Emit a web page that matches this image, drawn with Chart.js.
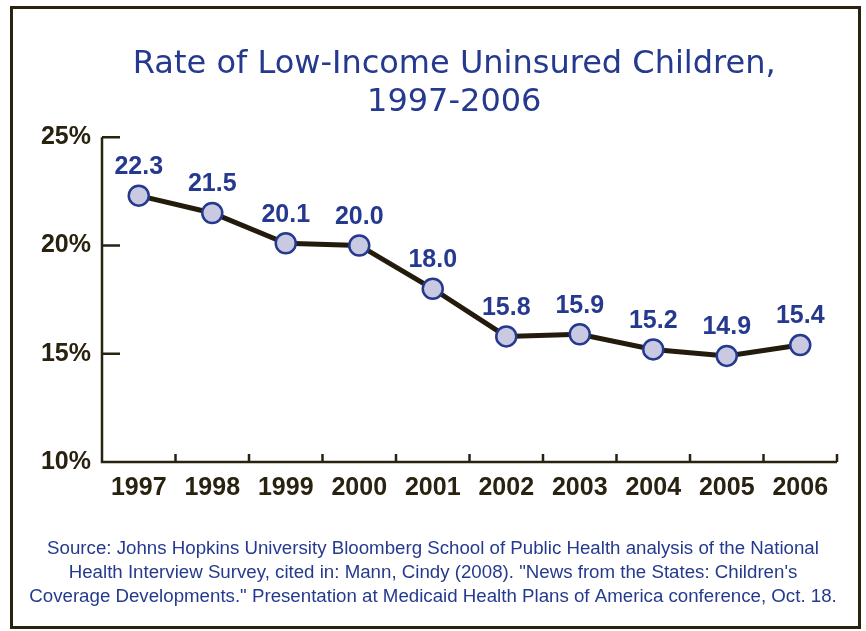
<!DOCTYPE html>
<html>
<head>
<meta charset="utf-8">
<script src="https://cdn.jsdelivr.net/npm/chart.js@4.4.1/dist/chart.umd.min.js"></script>
<style>
  html, body { margin: 0; padding: 0; background: #fff; }
  #wrap { position: relative; width: 866px; height: 631px; }
  #frame { position: absolute; left: 10px; top: 6px; width: 845px; height: 617px; border: 3px solid #2a2210; }
  #graphic { position: absolute; left: 0; top: 0; }
</style>
</head>
<body>
<div id="wrap">
  <div id="frame"></div>
  <canvas id="graphic" width="866" height="631"></canvas>
</div>
<script>
// data
const years = ['1997', '1998', '1999', '2000', '2001', '2002', '2003', '2004', '2005', '2006'];
const rates = [22.3, 21.5, 20.1, 20.0, 18.0, 15.8, 15.9, 15.2, 14.9, 15.4];
const yTicks = [10, 15, 20, 25];
const titleLines = ['Rate of Low-Income Uninsured Children,', '1997-2006'];
const sourceLines = [
  'Source: Johns Hopkins University Bloomberg School of Public Health analysis of the National',
  'Health Interview Survey, cited in: Mann, Cindy (2008). "News from the States: Children\'s',
  'Coverage Developments." Presentation at Medicaid Health Plans of America conference, Oct. 18.'
];

const blue = '#253a8f';
const dark = '#2a2210';

// axis lines with inward tick marks + value labels over the points
const axisAndLabels = {
  id: 'axisAndLabels',
  afterDatasetsDraw(chart) {
    const ctx = chart.ctx;
    const x = chart.scales.x, y = chart.scales.y;
    const area = chart.chartArea;
    ctx.save();
    ctx.strokeStyle = dark;
    ctx.lineWidth = 2.5;
    ctx.beginPath();
    ctx.moveTo(area.left, area.top);
    ctx.lineTo(area.left, area.bottom);
    ctx.lineTo(area.right, area.bottom);
    yTicks.forEach(function (v) {
      const py = y.getPixelForValue(v);
      ctx.moveTo(area.left, py);
      ctx.lineTo(area.left + 18, py);
    });
    for (let i = 0; i < years.length; i++) {
      const px = i < years.length - 1
        ? (x.getPixelForTick(i) + x.getPixelForTick(i + 1)) / 2
        : area.right;
      ctx.moveTo(px, area.bottom);
      ctx.lineTo(px, area.bottom - 8);
    }
    ctx.stroke();

    ctx.fillStyle = blue;
    ctx.font = 'bold 25px "Liberation Sans", Arial, sans-serif';
    ctx.textAlign = 'center';
    ctx.textBaseline = 'bottom';
    chart.getDatasetMeta(0).data.forEach(function (pt, i) {
      ctx.fillText(rates[i].toFixed(1), pt.x, pt.y - 16);
    });
    ctx.restore();
  }
};

const graphic = document.getElementById('graphic').getContext('2d');

const chart = new Chart(graphic, {
  type: 'line',
  data: {
    labels: years,
    datasets: [{
      data: rates,
      borderColor: '#231c0c',
      borderWidth: 5,
      pointRadius: 10,
      pointBackgroundColor: '#c9c9e2',
      pointBorderColor: blue,
      pointBorderWidth: 2.5,
      tension: 0
    }]
  },
  options: {
    responsive: false,
    animation: false,
    layout: { padding: 0 },
    plugins: {
      legend: { display: false },
      tooltip: { enabled: false },
      title: {
        display: true,
        fullSize: false,
        // trailing spaces nudge the centred title a little to the left
        text: titleLines.map(function (t) { return t + '   '; }),
        color: blue,
        font: { family: '"DejaVu Sans", sans-serif', size: 32, weight: 'normal', lineHeight: 1.19 },
        padding: { top: 46, bottom: 15 }
      },
      subtitle: {
        display: true,
        position: 'bottom',
        text: sourceLines,
        color: blue,
        font: { family: '"Liberation Sans", Arial, sans-serif', size: 18.7, weight: 'normal', lineHeight: 1.283 },
        padding: { top: 23, bottom: 22 }
      }
    },
    scales: {
      x: {
        offset: true,
        grid: { display: false, drawTicks: false },
        border: { display: false },
        ticks: {
          color: dark,
          padding: 11,
          maxRotation: 0,
          font: { family: '"Liberation Sans", Arial, sans-serif', size: 25, weight: 'bold' }
        }
      },
      y: {
        min: 10,
        max: 25,
        afterFit: function (scale) { scale.width = 102; },
        afterBuildTicks: function (scale) {
          scale.ticks = yTicks.map(function (v) { return { value: v }; });
        },
        grid: { display: false, drawTicks: false },
        border: { display: false },
        ticks: {
          color: dark,
          padding: 11,
          callback: function (v) { return v + '%'; },
          font: { family: '"Liberation Sans", Arial, sans-serif', size: 25, weight: 'bold' }
        }
      },
      // empty right margin box
      yRight: {
        position: 'right',
        afterFit: function (scale) { scale.width = 29; },
        grid: { display: false, drawTicks: false },
        border: { display: false },
        ticks: { display: false }
      }
    }
  },
  plugins: [axisAndLabels]
});
</script>
</body>
</html>
